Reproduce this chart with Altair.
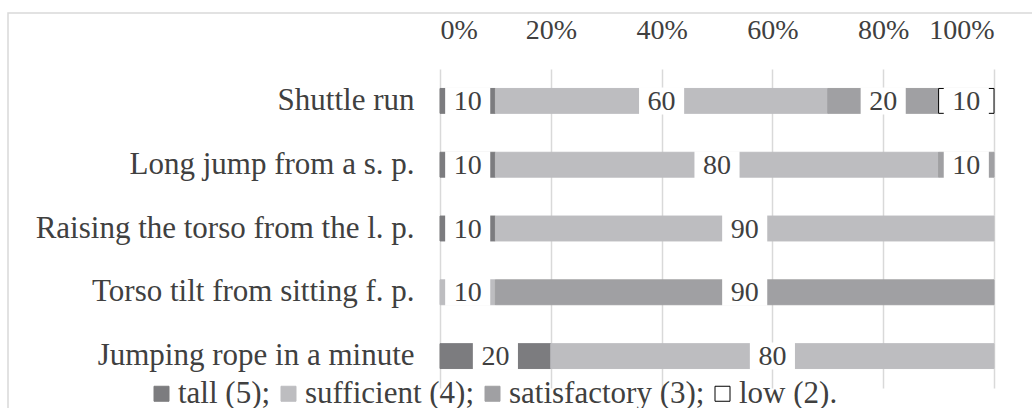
import altair as alt
import pandas as pd

tasks = [
    "Shuttle run",
    "Long jump from a s. p.",
    "Raising the torso from the l. p.",
    "Torso tilt from sitting f. p.",
    "Jumping rope in a minute",
]
levels = ["tall (5);", "sufficient (4);", "satisfactory (3);", "low (2)."]
tall = [10, 10, 10, 0, 20]
sufficient = [60, 80, 90, 10, 80]
satisfactory = [20, 10, 0, 90, 0]
low = [10, 0, 0, 0, 0]
x_ticks = [0, 20, 40, 60, 80, 100]

fills = ["#7c7c7f", "#bdbdc0", "#a0a0a3", "#ffffff"]
strokes = ["#7c7c7f", "#bdbdc0", "#a0a0a3", "#000000"]

rows = []
for i, t in enumerate(tasks):
    for lev, series in zip(levels, [tall, sufficient, satisfactory, low]):
        if series[i] > 0:
            rows.append({"task": t, "level": lev, "value": series[i], "order": levels.index(lev)})
df = pd.DataFrame(rows)

FONT = "Liberation Serif"
TXT = "#404040"

y_enc = alt.Y(
    "task:N",
    sort=tasks,
    scale=alt.Scale(paddingInner=0.61, paddingOuter=0.305),
    axis=alt.Axis(
        title=None, ticks=False, domain=False, labelFont=FONT, labelFontSize=31,
        labelColor=TXT, labelPadding=26, labelLimit=600,
    ),
)

base = alt.Chart(df).transform_stack(
    stack="value", groupby=["task"], as_=["x0", "x1"], sort=[alt.SortField("order")]
).transform_calculate(
    mid="(datum.x0 + datum.x1) / 2",
    lo="(datum.x0 + datum.x1) / 2 - 4.07",
    hi="(datum.x0 + datum.x1) / 2 + 4.07",
)

x_scale = alt.Scale(domain=[0, 100], nice=False)

legend_kw = dict(
    title=None, orient="none", direction="horizontal",
    legendX=-294, legendY=309, symbolType="square", symbolSize=225,
    symbolStrokeWidth=1, labelFont=FONT, labelFontSize=31,
    labelColor=TXT, labelOffset=1, columnPadding=2, labelLimit=0,
    padding=0, symbolOffset=0,
)

bars = base.mark_bar(strokeWidth=1).encode(
    y=y_enc,
    x=alt.X(
        "x0:Q",
        scale=x_scale,
        axis=alt.Axis(
            orient="top", title=None, values=x_ticks, ticks=False, domain=False,
            labelExpr="datum.value + '%'", labelFont=FONT, labelFontSize=28,
            labelColor=TXT, labelPadding=25, grid=True, gridColor="#d9d9d9",
            gridWidth=1.5,
        ),
    ),
    x2="x1:Q",
    fill=alt.Fill(
        "level:N",
        scale=alt.Scale(domain=levels, range=fills),
        legend=alt.Legend(**legend_kw),
    ),
    stroke=alt.Stroke(
        "level:N",
        scale=alt.Scale(domain=levels, range=strokes),
        legend=alt.Legend(**legend_kw),
    ),
)

boxes = base.mark_bar(fill="white", height=27).encode(
    y=alt.Y("task:N", sort=tasks),
    x=alt.X("lo:Q", scale=x_scale),
    x2="hi:Q",
)

labels = base.mark_text(font=FONT, fontSize=28, color=TXT, baseline="middle", dy=1).encode(
    y=alt.Y("task:N", sort=tasks),
    x=alt.X("mid:Q", scale=x_scale),
    text="value:Q",
)

border = alt.Chart(pd.DataFrame({"k": [0]})).mark_rect(
    fill=None, stroke="#d9d9d9", strokeWidth=1.5
).encode(
    x=alt.value(-432), x2=alt.value(700), y=alt.value(-56), y2=alt.value(400)
)

chart = alt.layer(border, bars, boxes, labels).properties(
    width=554, height=319,
    autosize=alt.AutoSizeParams(type="none"),
    padding={"left": 440, "top": 69, "right": 38, "bottom": 20},
    background="white",
).configure_view(stroke=None)

chart.save("out.html", embed_options={"renderer": "svg", "actions": False})
